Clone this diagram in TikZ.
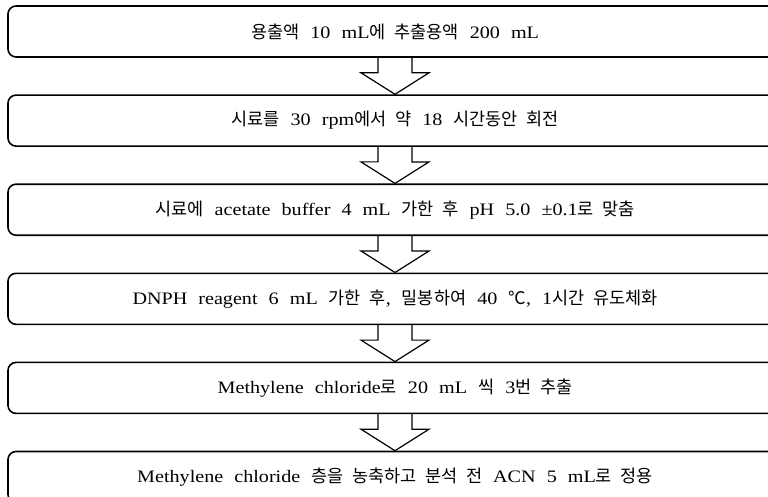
\documentclass[tikz,border=0pt]{standalone}
\usepackage{fontspec}
\setmainfont{Liberation Serif}[FakeStretch=1.15, WordSpace=2.2]
\newfontfamily\krfont{Noto Sans CJK KR}[Scale=1.0, WordSpace=2.2]
\newcommand{\kr}[1]{{\krfont #1}}
\usetikzlibrary{positioning}

\begin{document}
\begin{tikzpicture}[
    x=1bp, y=1bp,
    stepbox/.style={draw, line width=1.6bp, rounded corners=8bp, minimum width=774bp, minimum height=51bp, inner sep=0pt, font=\fontsize{17.5bp}{20bp}\selectfont},
    blockarr/.style={line width=1.2bp, line join=miter}
]
\useasboundingbox (0,0) rectangle (768,-497);
\node[stepbox] (s1) at (395,-31.5) {\kr{용출액} 10 mL\kr{에 추출용액} 200 mL};
\node[stepbox, below=36.5bp of s1] (s2) {\kr{시료를} 30 rpm\kr{에서 약} 18 \kr{시간동안 회전}};
\node[stepbox, below=36.5bp of s2] (s3) {\kr{시료에} acetate buffer 4 mL \kr{가한 후} pH 5.0 ±0.1\kr{로 맞춤}};
\node[stepbox, below=36.5bp of s3] (s4) {DNPH reagent 6 mL \kr{가한 후}, \kr{밀봉하여} 40 \kr{℃}, 1\kr{시간 유도체화}};
\node[stepbox, below=36.5bp of s4] (s5) {Methylene chloride\kr{로} 20 mL \kr{씩} 3\kr{번 추출}};
\node[stepbox, below=36.5bp of s5] (s6) {Methylene chloride \kr{층을 농축하고 분석 전} ACN 5 mL\kr{로 정용}};

% hollow arrows between the steps
\foreach \a/\b in {s1/s2, s2/s3, s3/s4, s4/s5, s5/s6}
  \draw[blockarr] (\a.south) ++(-17,0) -- ++(0,-15) -- ++(-17,0) -- (\b.north)
    -- ++(34,21.5) -- ++(-17,0) -- ++(0,15);
\end{tikzpicture}
\end{document}
